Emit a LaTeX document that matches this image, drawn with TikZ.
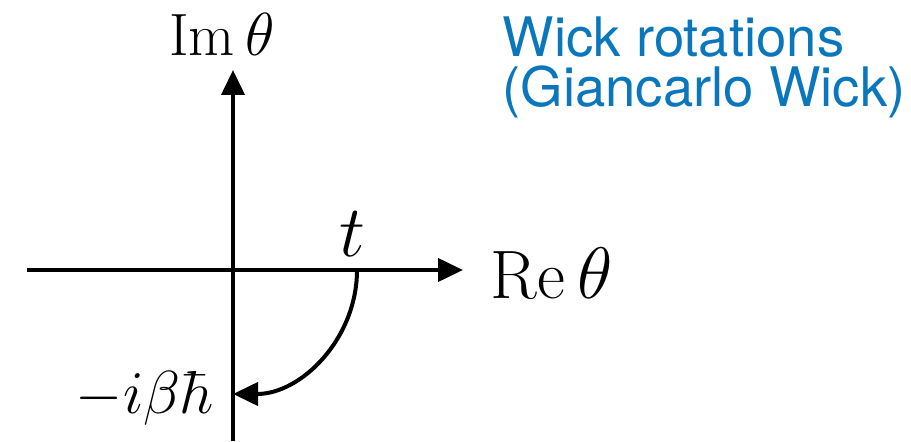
\documentclass[tikz,border=0pt]{standalone}
\usepackage{fontspec}
\newfontfamily\headfont{TeX Gyre Heros}
\usetikzlibrary{arrows.meta}
\definecolor{wickblue}{HTML}{0A77BD}
\tikzset{
  >={Triangle[length=2.5mm,width=2.3mm]},
  ax/.style={line width=0.4mm},
  lbl/.style={inner sep=0pt,font=\fontsize{17}{20}\selectfont},
  big/.style={lbl,font=\fontsize{19.5}{23}\selectfont},
  ttl/.style={inner sep=0pt,text=wickblue,font=\headfont\fontsize{15.5}{19}\selectfont},
}

\begin{document}
\begin{tikzpicture}[x=0.1mm,y=0.1mm]
\useasboundingbox (0,0) rectangle (911,441);
\coordinate (O) at (233,171); \coordinate (L) at (27,171); \coordinate (R) at (463,171);
\coordinate (B) at (233,0); \coordinate (T) at (233,371); \coordinate (t0) at (357,171);
\draw[ax,->] (L)--(R); \draw[ax,->] (B)--(T);
\draw[ax,->] (t0) arc[start angle=0,end angle=-90,radius=124] coordinate (tb);
\node[lbl,font=\fontsize{21}{24}\selectfont,anchor=base] (tl) at (352,184) {$t$};
\node[big,anchor=base west] (re) at (490,143) {$\mathrm{Re}\,\theta$};
\node[lbl,anchor=base] (im) at (222,385) {$\mathrm{Im}\,\theta$};
\node[lbl,font=\fontsize{18}{21}\selectfont,anchor=base east] (ib) at (214,28) {$-i\beta\hbar$};
\node[ttl,anchor=base west] (w1) at (502,384) {Wick rotations};
\node[ttl,anchor=base west] (w2) at (502,334) {(Giancarlo Wick)};
\end{tikzpicture}
\end{document}
